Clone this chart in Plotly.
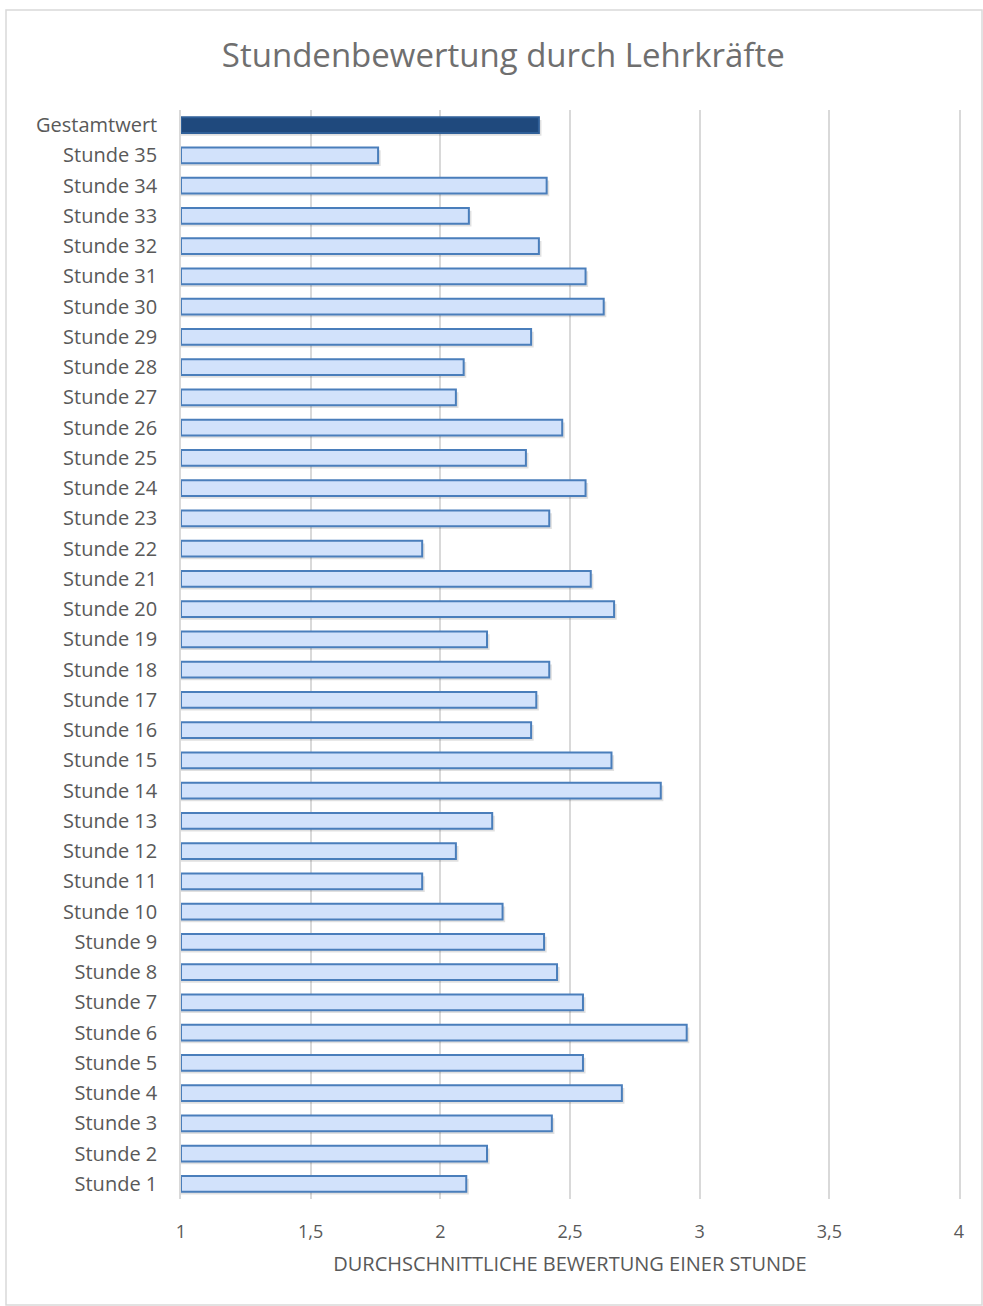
import plotly.graph_objects as go

# Daten (von unten nach oben, wie Plotly die Kategorien anordnet)
stunden = [f"Stunde {i}" for i in range(1, 36)]
werte_stunden = [
    2.10, 2.18, 2.43, 2.70, 2.55, 2.95, 2.55, 2.45, 2.40, 2.24,
    1.93, 2.06, 2.20, 2.85, 2.66, 2.35, 2.37, 2.42, 2.18, 2.67,
    2.58, 1.93, 2.42, 2.56, 2.33, 2.47, 2.06, 2.09, 2.35, 2.63,
    2.56, 2.38, 2.11, 2.41, 1.76,
]
gesamt_label = "Gestamtwert"
gesamt_wert = 2.38

tick_werte = [1, 1.5, 2, 2.5, 3, 3.5, 4]
tick_texte = ["1", "1,5", "2", "2,5", "3", "3,5", "4"]

kategorien = stunden + [gesamt_label]
werte = werte_stunden + [gesamt_wert]
basis = 1

FONT = "Open Sans"
GRAU = "#595959"
GITTER = "#d9d9d9"

# Pixelmaße der Vorlage
W, H = 983, 1306
ML, MR, MT, MB = 181, 24, 110, 107
plot_w = W - ML - MR
plot_h = H - MT - MB

fig = go.Figure()

# leichter Schatten hinter den Balken
fig.add_trace(go.Bar(
    y=kategorien,
    x=[v - basis + 0.01 for v in werte],
    base=basis,
    orientation="h",
    width=0.52,
    offset=-0.26 - 0.09,
    marker=dict(color="rgba(0,0,0,0.12)", line=dict(width=0)),
    hoverinfo="skip",
    showlegend=False,
))

farben = ["#d2e2fb"] * len(stunden) + ["#1f497d"]
rahmen = ["#4a7ebb"] * len(stunden) + ["#2f5f98"]

fig.add_trace(go.Bar(
    y=kategorien,
    x=[v - basis for v in werte],
    base=basis,
    orientation="h",
    width=0.52,
    offset=-0.26,
    marker=dict(color=farben, line=dict(color=rahmen, width=2)),
    customdata=werte,
    hovertemplate="%{y}: %{customdata}<extra></extra>",
    showlegend=False,
))

fig.update_layout(
    width=W,
    height=H,
    margin=dict(l=ML, r=MR, t=MT, b=MB),
    paper_bgcolor="white",
    plot_bgcolor="white",
    barmode="overlay",
    separators=",.",
    font=dict(family=FONT, color=GRAU),
    title=dict(
        text="Stundenbewertung durch Lehrkräfte",
        x=0.512, xanchor="center",
        y=1 - 55 / H, yanchor="middle",
        font=dict(family=FONT, size=33, color="#6f6f6f"),
    ),
    xaxis=dict(
        range=[1, 4],
        tickvals=tick_werte,
        ticktext=tick_texte,
        showgrid=True,
        gridcolor=GITTER,
        gridwidth=1.5,
        zeroline=False,
        showline=False,
        ticks="",
        tickfont=dict(size=18, color=GRAU),
        ticklabelstandoff=20,
        title=dict(
            text="DURCHSCHNITTLICHE BEWERTUNG EINER STUNDE",
            font=dict(size=20, color=GRAU),
            standoff=14,
        ),
    ),
    yaxis=dict(
        categoryorder="array",
        categoryarray=kategorien,
        range=[-0.5, len(kategorien) - 0.5],
        showgrid=False,
        showline=True,
        mirror=True,
        linecolor=GITTER,
        linewidth=1.5,
        ticks="",
        tickfont=dict(size=20, color=GRAU),
        ticklabelstandoff=18,
    ),
)

# Rahmen des Diagrammbereichs
fig.add_shape(
    type="rect",
    xref="paper", yref="paper",
    x0=(6 - ML) / plot_w, x1=(982 - ML) / plot_w,
    y0=(H - MB - 1305) / plot_h, y1=1 + (MT - 10) / plot_h,
    line=dict(color=GITTER, width=1.5),
    fillcolor="rgba(0,0,0,0)",
    layer="below",
)

fig.write_html(
    "out.html",
    config={"displayModeBar": False},
    post_script="document.body.style.margin='0';",
)
